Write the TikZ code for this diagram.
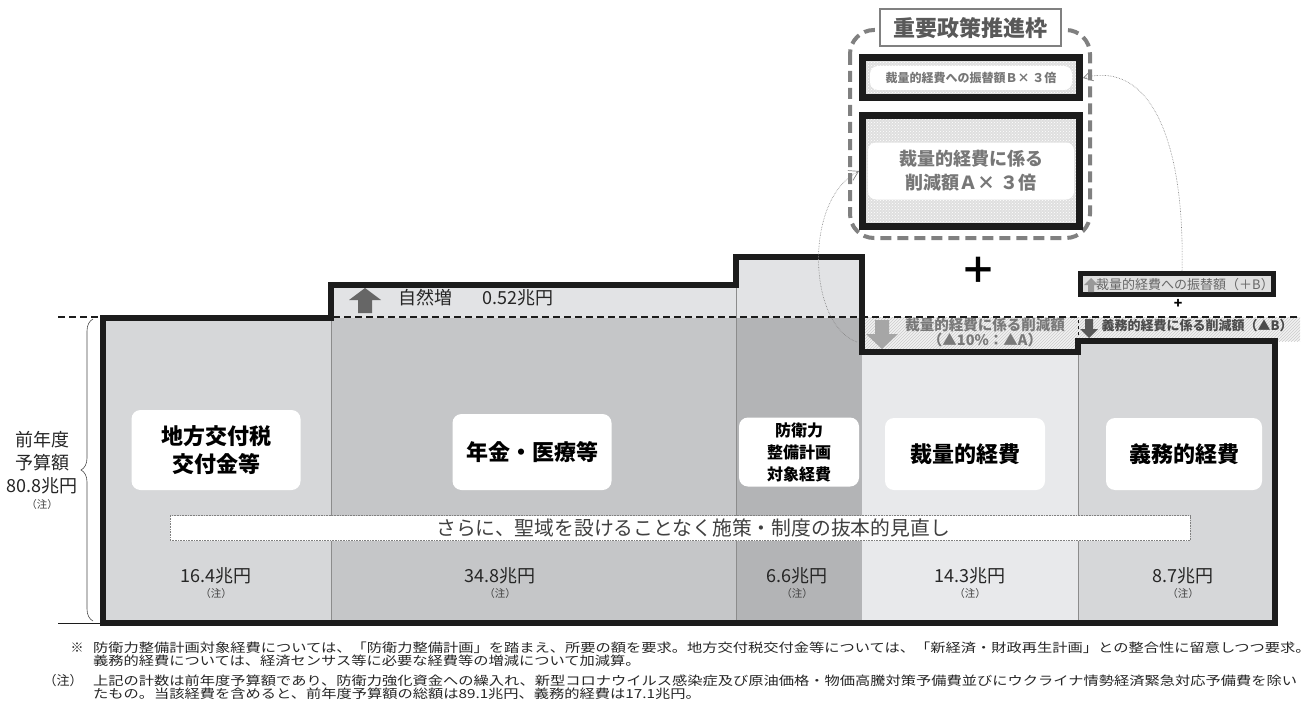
\documentclass[tikz,border=0pt]{standalone}
\usepackage{fontspec}
\setmainfont{Noto Sans CJK JP}
\usetikzlibrary{patterns,arrows.meta,decorations.pathreplacing}
\definecolor{colL}{HTML}{D6D7D9}
\definecolor{colM}{HTML}{C5C6C8}
\definecolor{colD}{HTML}{B3B4B6}
\definecolor{colS}{HTML}{E8E9EB}
\definecolor{colBand}{HTML}{E2E3E5}
\definecolor{colLine}{HTML}{1C1C1C}
\definecolor{colDash}{HTML}{808080}
\definecolor{colTxtG}{HTML}{777777}
\definecolor{colArr}{HTML}{666666}
\definecolor{colSep}{HTML}{8C8C8C}
\begin{document}
\begin{tikzpicture}[x=1pt,y=-1pt,
  colbox/.style={fill=white,rounded corners=9pt,align=center,inner sep=0pt,text=black,font=\bfseries\fontsize{22}{28}\selectfont},
  amount/.style={align=center,text=black!85,font=\fontsize{18}{19}\selectfont},
  chu/.style={text=black!75,font=\fontsize{10.5}{10.5}\selectfont},
  blackbox/.style={draw=colLine,line width=7pt,pattern=crosshatch dots,pattern color=white,preaction={fill=gray!25},inner sep=0pt},
  innerlbl/.style={fill=white,rounded corners=8pt,align=center,text=colTxtG,inner sep=0pt},
  curvearrow/.style={draw=gray,line width=0.6pt,densely dotted,-{Straight Barb[length=9pt,width=11pt,line width=0.7pt]}},
  fnote/.style={anchor=west,inner sep=0pt,text=black!85,font=\fontsize{12.5}{12.5}\selectfont},
  hatch/.style={pattern=north east lines,pattern color=gray!40},
]
\useasboundingbox (0,0) rectangle (1311,706);
\fill[white] (0,0) rectangle (1311,706);

% column fills
\fill[colL] (103,318) rectangle (331,623);
\fill[colM] (331,318) rectangle (736,623);
\fill[colD] (736,318) rectangle (862,623);
\fill[colS] (862,352) rectangle (1078,623);
\fill[colL] (1078,341) rectangle (1275,623);
\fill[colBand] (331,285) rectangle (862,318);
\fill[colBand] (736,257) rectangle (862,318);

% reduction bands
\fill[gray!10] (862,317) rectangle (1078,352);
\fill[hatch] (862,317) rectangle (1078,352);
\fill[gray!10] (1078,317) rectangle (1300,341);
\fill[hatch] (1078,317) rectangle (1300,341);

% separators
\draw[colSep,line width=0.6pt] (331,285) -- (331,623);
\draw[colSep,line width=0.6pt] (736,257) -- (736,623);
\draw[colSep,line width=0.6pt] (1078,352) -- (1078,623);
\draw[colLine,line width=0.8pt,dashed] (1078,341) -- (1078,317);

% baseline dashed
\draw[colLine,line width=1.3pt,dash pattern=on 7pt off 4pt] (58,317) -- (1300,317);
\draw[colLine,line width=0.8pt] (58,623) -- (103,623);

% outline
\draw[colLine,line width=6pt,line join=miter] (103,623) -- (103,318) -- (331,318) -- (331,285) -- (736,285) -- (736,257) -- (862,257) -- (862,352) -- (1078,352) -- (1078,341) -- (1275,341) -- (1275,623) -- cycle;

% brace and left label
\draw[black!70,line width=0.6pt,decorate,decoration={brace,amplitude=12pt}] (93,621) -- (93,319);
\node[align=center,text=black!85,font=\fontsize{18}{23}\selectfont] (prev) at (42,463) {前年度\\予算額\\80.8兆円};
\node[chu] (prevchu) at (42,505) {（注）};

% natural increase
\fill[colArr] (358,313) -- (372,313) -- (372,300) -- (381,300) -- (365,288) -- (349,300) -- (358,300) -- cycle;
\node[anchor=west,text=black!85,font=\fontsize{18}{18}\selectfont] (natural) at (395,298) {自然増\hspace{30pt}0.52兆円};

% column labels
\node[colbox,minimum width=169pt,minimum height=80pt] (chiho) at (216,450) {地方交付税\\交付金等};
\node[colbox,minimum width=159pt,minimum height=76pt] (nenkin) at (532,452) {年金・医療等};
\node[colbox,minimum width=120pt,minimum height=69pt,font=\bfseries\fontsize{16}{22}\selectfont] (boei) at (799,452) {防衛力\\整備計画\\対象経費};
\node[colbox,minimum width=160pt,minimum height=72pt] (sairyo) at (965,454) {裁量的経費};
\node[colbox,minimum width=156pt,minimum height=72pt] (gimu) at (1184,454) {義務的経費};

% sarani box
\node[draw=gray,densely dotted,line width=0.6pt,fill=white,minimum width=1020pt,minimum height=25pt,inner sep=0pt] (sarani) at (680,528) {};
\node[text=black!75,font=\fontsize{19.8}{20}\selectfont] (saranitxt) at (693,528) {さらに、聖域を設けることなく施策・制度の抜本的見直し};

% amounts
\node[amount] (a1) at (216,576) {16.4兆円};
\node[chu] (a1c) at (216,594) {（注）};
\node[amount] (a2) at (500,576) {34.8兆円};
\node[chu] (a2c) at (500,594) {（注）};
\node[amount] (a3) at (797,576) {6.6兆円};
\node[chu] (a3c) at (797,594) {（注）};
\node[amount] (a4) at (970,576) {14.3兆円};
\node[chu] (a4c) at (970,594) {（注）};
\node[amount] (a5) at (1183,576) {8.7兆円};
\node[chu] (a5c) at (1183,594) {（注）};

% reduction labels
\fill[gray!70!white] (875,320) -- (889,320) -- (889,334) -- (898,334) -- (882,349) -- (866,334) -- (875,334) -- cycle;
\node[align=center,text=gray!95!black,font=\bfseries\fontsize{14.5}{15}\selectfont] (redA) at (985,333) {裁量的経費に係る削減額\\（▲10\%：▲A）};
\fill[black!65] (1085,319) -- (1093,319) -- (1093,329) -- (1098,329) -- (1089,338) -- (1080,329) -- (1085,329) -- cycle;
\node[anchor=west,text=black!70,font=\bfseries\fontsize{13}{13}\selectfont] (redB) at (1098,326) {義務的経費に係る削減額（▲B）};

% transfer box
\node[draw=colLine,line width=5pt,fill=gray!25,minimum width=193pt,minimum height=21pt,inner sep=0pt] (furi) at (1177,284) {};
\fill[gray!80] (1088,292) -- (1094,292) -- (1094,285) -- (1098,285) -- (1091,278) -- (1084,285) -- (1088,285) -- cycle;
\node[text=gray!80!black,font=\fontsize{13}{13}\selectfont] (furitxt) at (1185,285) {裁量的経費への振替額（＋B）};
\node[font=\bfseries\fontsize{14}{14}\selectfont] (smallplus) at (1178,304) {+};

% big plus
\node[font=\bfseries\fontsize{36}{36}\selectfont] (bigplus) at (978,270) {＋};

% priority frame
\draw[colDash,line width=4pt,dash pattern=on 11pt off 6pt,rounded corners=24pt] (850,30) rectangle (1090,238);
\node[draw=colDash,line width=2pt,fill=white,text=black!65,font=\bfseries\fontsize{22}{22}\selectfont,minimum width=181pt,minimum height=37pt,inner sep=0pt] (title) at (970,28) {重要政策推進枠};
\node[blackbox,minimum width=217pt,minimum height=40pt] (boxB) at (971,78) {};
\node[blackbox,minimum width=217pt,minimum height=111pt] (boxA) at (971,171) {};
\node[innerlbl,minimum width=202pt,minimum height=24pt,font=\bfseries\fontsize{12}{12}\selectfont] (lblB) at (971,78) {裁量的経費への振替額Ｂ× ３倍};
\node[innerlbl,minimum width=206pt,minimum height=57pt,font=\bfseries\fontsize{18}{24}\selectfont] (lblA) at (971,171) {裁量的経費に係る\\削減額Ａ× ３倍};

% curved arrows
\coordinate (redAstart) at (857,342);
\draw[curvearrow] (redAstart) .. controls (808,325) and (803,200) .. (boxA.west);
\draw[curvearrow] ([xshift=5pt]furi.north) .. controls (1185,140) and (1150,60) .. (boxB.east);

% footnotes
\node[anchor=center,text=black!85,font=\fontsize{13}{13}\selectfont] (kome) at (77,648) {※};
\node[fnote] (fn1) at (93,648) {\scalebox{1.22}[1]{防衛力整備計画対象経費については、「防衛力整備計画」を踏まえ、所要の額を要求。地方交付税交付金等については、「新経済・財政再生計画」との整合性に留意しつつ要求。}};
\node[fnote] (fn2) at (93,661) {\scalebox{1.22}[1]{義務的経費については、経済センサス等に必要な経費等の増減について加減算。}};
\node[anchor=center,text=black!85,font=\fontsize{13}{13}\selectfont] (chulbl) at (63,681) {（注）};
\node[fnote] (fn3) at (93,681) {\scalebox{1.22}[1]{上記の計数は前年度予算額であり、防衛力強化資金への繰入れ、新型コロナウイルス感染症及び原油価格・物価高騰対策予備費並びにウクライナ情勢経済緊急対応予備費を除い}};
\node[fnote] (fn4) at (93,694) {\scalebox{1.22}[1]{たもの。当該経費を含めると、前年度予算額の総額は89.1兆円、義務的経費は17.1兆円。}};
\end{tikzpicture}
\end{document}
